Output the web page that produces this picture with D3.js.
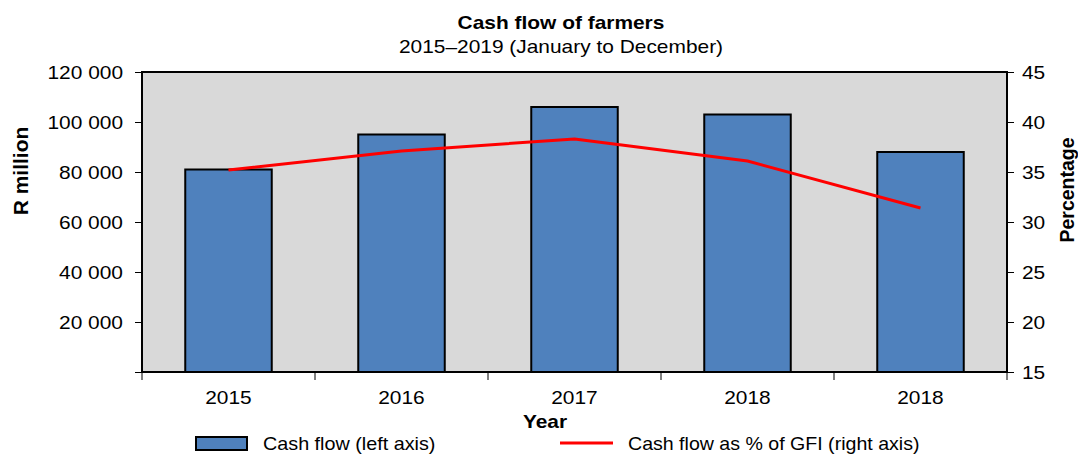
<!DOCTYPE html>
<html>
<head>
<meta charset="utf-8">
<script src="https://cdn.jsdelivr.net/npm/d3@7"></script>
<style>
  html, body { margin: 0; padding: 0; background: #fff; }
  svg { display: block; font-family: "Liberation Sans", Arial, sans-serif; }
</style>
</head>
<body>
<svg id="chart" width="1078" height="456"></svg>
<script>
// Farm cash flow by year (R million) and cash flow as % of gross farm income
const years = ["2015", "2016", "2017", "2018", "2018 "];
const yearLabels = ["2015", "2016", "2017", "2018", "2018"];
const cashFlow = [81000, 95000, 106000, 103000, 88000];
const cashFlowPct = [35.2, 37.1, 38.3, 36.1, 31.4];
const leftTicks = [0, 20000, 40000, 60000, 80000, 100000, 120000];
const rightTicks = [15, 20, 25, 30, 35, 40, 45];

const svg = d3.select("#chart");
const m = { left: 142, right: 1007, top: 72, bottom: 372 };
const FS = 19;        // base font size
const WIDEN = 1.1;    // horizontal widening of the lettering

const x = d3.scaleBand().domain(years).range([m.left, m.right]).paddingInner(0.5).paddingOuter(0.25);
const xBand = d3.scaleBand().domain(years).range([m.left, m.right]);
const yL = d3.scaleLinear().domain([0, 120000]).range([m.bottom, m.top]);
const yR = d3.scaleLinear().domain([15, 45]).range([m.bottom, m.top]);

const fmt = d => d === 0 ? "" : d3.format(",")(d).replace(/,/g, " ");

// widen horizontal text by stretching its glyphs
function widen(sel, k = WIDEN) {
  sel.each(function () {
    const w = this.getComputedTextLength();
    if (w > 0) {
      this.setAttribute("textLength", w * k);
      this.setAttribute("lengthAdjust", "spacingAndGlyphs");
    }
  });
}

// plot background
svg.append("rect")
  .attr("x", m.left).attr("y", m.top)
  .attr("width", m.right - m.left).attr("height", m.bottom - m.top)
  .attr("fill", "#d9d9d9");

// bars
svg.append("g").selectAll("rect").data(cashFlow).join("rect")
  .attr("x", (d, i) => x(years[i]))
  .attr("width", x.bandwidth())
  .attr("y", d => yL(d))
  .attr("height", d => yL(0) - yL(d))
  .attr("fill", "#4f81bd")
  .attr("stroke", "#000")
  .attr("stroke-width", 2);

// percentage line
const line = d3.line()
  .x((d, i) => xBand(years[i]) + xBand.bandwidth() / 2)
  .y(d => yR(d));
svg.append("path").datum(cashFlowPct)
  .attr("d", line)
  .attr("fill", "none")
  .attr("stroke", "#ff0000")
  .attr("stroke-width", 3)
  .attr("stroke-linejoin", "round");

// plot border
svg.append("rect")
  .attr("x", m.left).attr("y", m.top)
  .attr("width", m.right - m.left).attr("height", m.bottom - m.top)
  .attr("fill", "none").attr("stroke", "#000").attr("stroke-width", 2);

// left axis
const gL = svg.append("g").attr("transform", `translate(${m.left},0)`)
  .call(d3.axisLeft(yL).tickValues(leftTicks).tickFormat(fmt).tickSize(7).tickPadding(12));
// right axis
const gR = svg.append("g").attr("transform", `translate(${m.right},0)`)
  .call(d3.axisRight(yR).tickValues(rightTicks).tickSize(7).tickPadding(8));
// bottom axis, ticks at band boundaries
const boundaries = years.map(y => xBand(y)).concat([m.right]);
const gB = svg.append("g").attr("transform", `translate(0,${m.bottom})`);
gB.selectAll("line").data(boundaries).join("line")
  .attr("x1", d => d).attr("x2", d => d)
  .attr("y1", 0).attr("y2", 8)
  .attr("stroke", "#000").attr("stroke-width", 1);
gB.selectAll("text").data(years).join("text")
  .attr("x", d => xBand(d) + xBand.bandwidth() / 2)
  .attr("y", 32)
  .attr("text-anchor", "middle")
  .attr("font-size", FS)
  .attr("fill", "#000")
  .text((d, i) => yearLabels[i])
  .call(widen);

[gL, gR].forEach(g => {
  g.select(".domain").remove();
  g.selectAll("line").attr("stroke", "#000");
  g.selectAll("text").attr("font-size", FS).attr("fill", "#000")
    .attr("font-family", "Liberation Sans, Arial, sans-serif")
    .call(widen);
});

// titles
const cx = 561;
svg.append("text").attr("x", cx).attr("y", 29).attr("text-anchor", "middle")
  .attr("font-size", FS).attr("font-weight", "bold").text("Cash flow of farmers").call(widen);
svg.append("text").attr("x", cx).attr("y", 53).attr("text-anchor", "middle")
  .attr("font-size", FS).text("2015\u20132019 (January to December)").call(widen);

// axis titles
svg.append("text").attr("transform", "translate(28,171) rotate(-90)")
  .attr("text-anchor", "middle").attr("font-size", 21).attr("font-weight", "bold")
  .text("R million");
svg.append("text").attr("transform", "translate(1074,190) rotate(-90)")
  .attr("text-anchor", "middle").attr("font-size", 19.5).attr("font-weight", "bold")
  .text("Percentage");
svg.append("text").attr("x", 545).attr("y", 428).attr("text-anchor", "middle")
  .attr("font-size", FS).attr("font-weight", "bold").text("Year").call(widen);

// legend
svg.append("rect").attr("x", 196).attr("y", 437).attr("width", 51).attr("height", 13)
  .attr("fill", "#4f81bd").attr("stroke", "#000").attr("stroke-width", 2);
svg.append("text").attr("x", 263).attr("y", 450).attr("font-size", FS)
  .text("Cash flow (left axis)").call(widen, 1.04);
svg.append("line").attr("x1", 560).attr("x2", 613).attr("y1", 443).attr("y2", 443)
  .attr("stroke", "#ff0000").attr("stroke-width", 3);
svg.append("text").attr("x", 628).attr("y", 450).attr("font-size", FS)
  .text("Cash flow as % of GFI (right axis)").call(widen, 1.03);
</script>
</body>
</html>
